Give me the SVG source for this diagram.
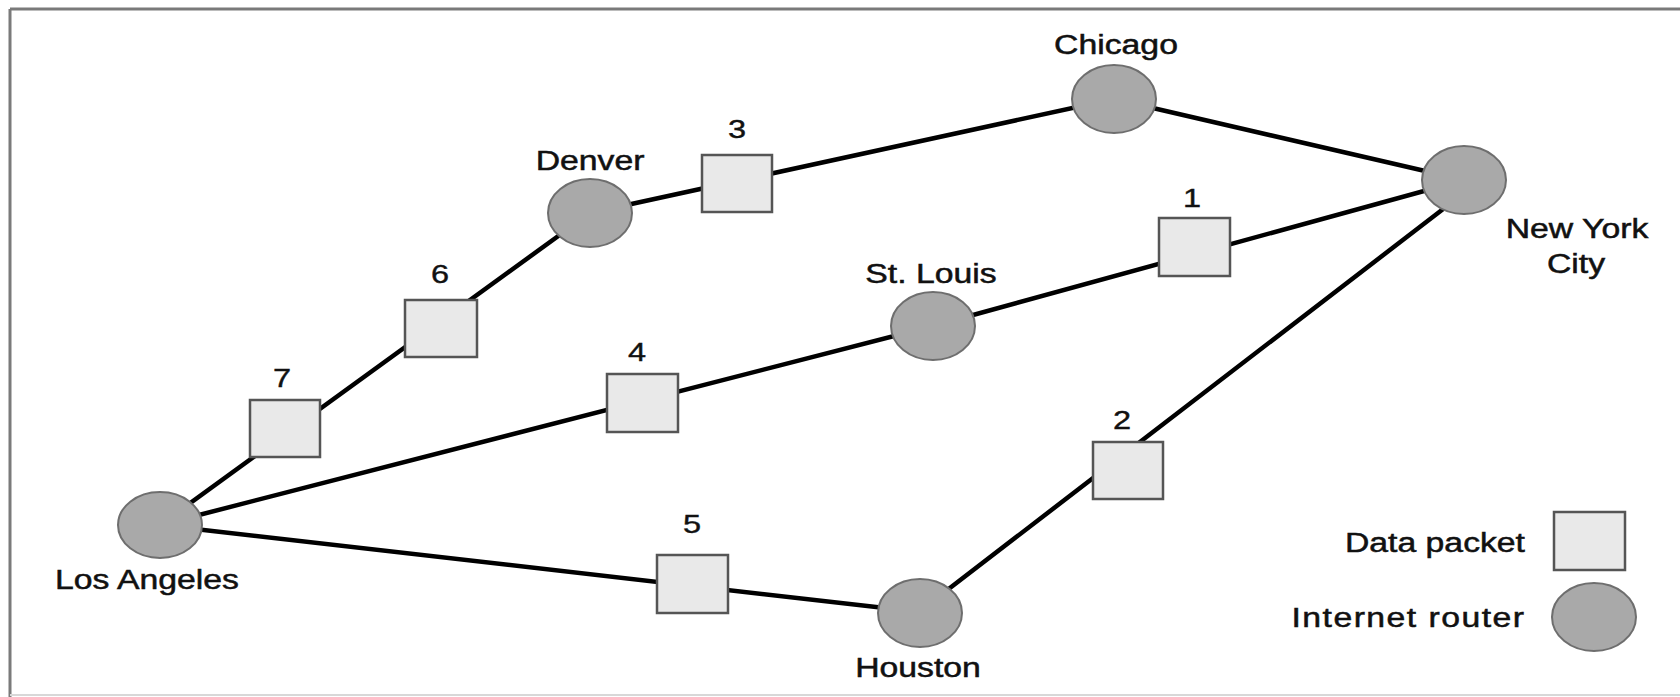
<svg xmlns="http://www.w3.org/2000/svg" width="1680" height="697" viewBox="0 0 1680 697">
<style>
  .router { fill: #a9a9a9; stroke: #6e6e6e; stroke-width: 2; }
  .packet { fill: #e9e9e9; stroke: #555555; stroke-width: 2.5; }
  .link { stroke: #000000; stroke-width: 4.5; fill: none; stroke-linecap: round; }
  .lbl { font-family: "Liberation Sans", Arial, sans-serif; font-size: 27px; fill: #111111; stroke: #111111; stroke-width: 0.5; text-anchor: middle; }
  .num { font-family: "Liberation Sans", Arial, sans-serif; font-size: 26px; fill: #111111; stroke: #111111; stroke-width: 0.4; text-anchor: middle; }
  .end { text-anchor: end; }
</style>
<rect x="0" y="0" width="1680" height="697" fill="#ffffff"/>
<g id="frame" fill="none">
  <line x1="10" y1="9" x2="1680" y2="9" stroke="#7a7a7a" stroke-width="3"/>
  <line x1="10" y1="9" x2="10" y2="697" stroke="#7a7a7a" stroke-width="3"/>
  <line x1="10" y1="695" x2="1680" y2="695" stroke="#d8d8d8" stroke-width="2"/>
</g>
<g id="connectors">
  <line class="link" x1="160" y1="525" x2="590" y2="213"/>
  <line class="link" x1="590" y1="213" x2="1114" y2="99"/>
  <line class="link" x1="1114" y1="99" x2="1464" y2="180"/>
  <line class="link" x1="160" y1="525" x2="933" y2="326"/>
  <line class="link" x1="933" y1="326" x2="1464" y2="180"/>
  <line class="link" x1="160" y1="525" x2="920" y2="612"/>
  <line class="link" x1="920" y1="611" x2="1464" y2="193"/>
</g>
<g id="router-chicago">
  <ellipse class="router" cx="1114" cy="99" rx="42" ry="34"/>
  <text class="lbl" transform="translate(1116,54) scale(1.25,1)">Chicago</text>
</g>
<g id="router-denver">
  <ellipse class="router" cx="590" cy="213" rx="42" ry="34"/>
  <text class="lbl" transform="translate(590,170) scale(1.25,1)">Denver</text>
</g>
<g id="router-stlouis">
  <ellipse class="router" cx="933" cy="326" rx="42" ry="34"/>
  <text class="lbl" transform="translate(931,283) scale(1.25,1)">St. Louis</text>
</g>
<g id="router-nyc">
  <ellipse class="router" cx="1464" cy="180" rx="42" ry="34"/>
  <text class="lbl" transform="translate(1577,238) scale(1.25,1)">New York</text>
  <text class="lbl" transform="translate(1576,273) scale(1.25,1)">City</text>
</g>
<g id="router-la">
  <ellipse class="router" cx="160" cy="525" rx="42" ry="33"/>
  <text class="lbl" transform="translate(147,589) scale(1.25,1)">Los Angeles</text>
</g>
<g id="router-houston">
  <ellipse class="router" cx="920" cy="613" rx="42" ry="34"/>
  <text class="lbl" transform="translate(918,677) scale(1.25,1)">Houston</text>
</g>
<g id="packet-1">
  <rect class="packet" x="1159" y="218" width="71" height="58"/>
  <text class="num" transform="translate(1192,207) scale(1.25,1)">1</text>
</g>
<g id="packet-2">
  <rect class="packet" x="1093" y="442" width="70" height="57"/>
  <text class="num" transform="translate(1122,429) scale(1.25,1)">2</text>
</g>
<g id="packet-3">
  <rect class="packet" x="702" y="155" width="70" height="57"/>
  <text class="num" transform="translate(737,138) scale(1.25,1)">3</text>
</g>
<g id="packet-4">
  <rect class="packet" x="607" y="374" width="71" height="58"/>
  <text class="num" transform="translate(637,361) scale(1.25,1)">4</text>
</g>
<g id="packet-5">
  <rect class="packet" x="657" y="555" width="71" height="58"/>
  <text class="num" transform="translate(692,533) scale(1.25,1)">5</text>
</g>
<g id="packet-6">
  <rect class="packet" x="405" y="300" width="72" height="57"/>
  <text class="num" transform="translate(440,283) scale(1.25,1)">6</text>
</g>
<g id="packet-7">
  <rect class="packet" x="250" y="400" width="70" height="57"/>
  <text class="num" transform="translate(282,387) scale(1.25,1)">7</text>
</g>
<g id="legend">
  <text class="lbl end" transform="translate(1525,552) scale(1.25,1)">Data packet</text>
  <rect class="packet" x="1554" y="512" width="71" height="58"/>
  <text class="lbl end" transform="translate(1524,627) scale(1.25,1)" textLength="186" lengthAdjust="spacing">Internet router</text>
  <ellipse class="router" cx="1594" cy="617" rx="42" ry="34"/>
</g>
</svg>
